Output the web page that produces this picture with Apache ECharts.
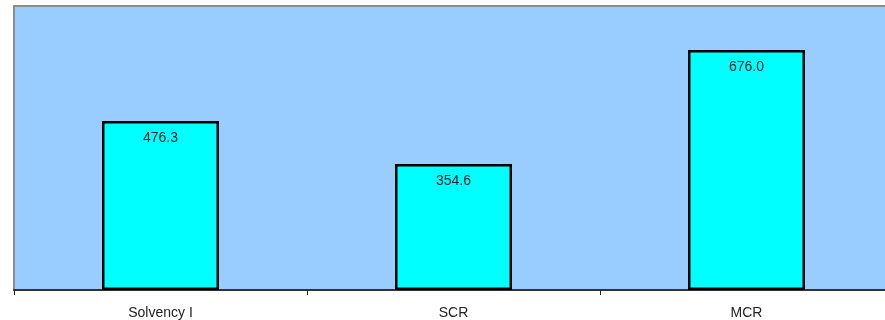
<!DOCTYPE html>
<html><head><meta charset="utf-8">
<script src="https://cdn.jsdelivr.net/npm/echarts@6/dist/echarts.min.js"></script>
<style>html,body{margin:0;padding:0;background:#fff;overflow:hidden;width:885px;height:320px}#c{width:895px;height:320px}</style>
</head><body><div id="c"></div>
<script>
const categories = ['Solvency I', 'SCR', 'MCR'];
const values = [476.3, 354.6, 676.0];
const chart = echarts.init(document.getElementById('c'));
chart.setOption({
  animation: false,
  grid: {left: 14, top: 6, right: 2, bottom: 30, containLabel: false, show: true, backgroundColor: '#99CCFF', borderColor: '#8c8c8c', borderWidth: 2},
  xAxis: {type: 'category', data: categories,
    axisLine: {lineStyle: {color: '#333', width: 2}},
    axisTick: {show: true, length: 5, lineStyle: {color: '#222'}},
    axisLabel: {fontFamily: 'Liberation Sans, Arial, sans-serif', fontSize: 14, color: '#222', margin: 16}},
  yAxis: {type: 'value', min: 0, max: 800, show: false, splitLine: {show: false}},
  series: [{type: 'bar', data: values, barWidth: 117,
    itemStyle: {color: '#00FFFF', borderColor: '#000', borderWidth: 2.5},
    label: {show: true, position: 'insideTop', distance: 10, formatter: p => p.value.toFixed(1),
      fontFamily: 'Liberation Sans, Arial, sans-serif', fontSize: 14, color: '#222'}}]
});
</script></body></html>
